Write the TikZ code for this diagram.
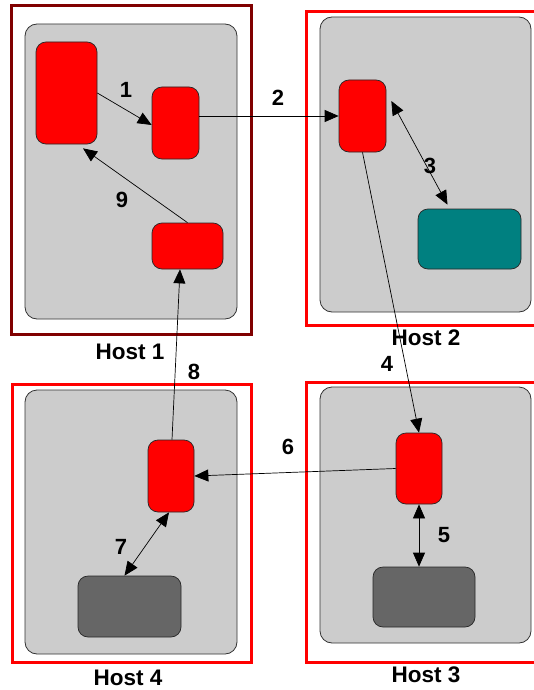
\documentclass[tikz,border=0pt]{standalone}
\usepackage{fontspec}
\setmainfont{Liberation Sans}
\usetikzlibrary{arrows.meta,calc}
\definecolor{darkframe}{HTML}{800000}
\definecolor{tealbox}{HTML}{008080}
\definecolor{graybox}{HTML}{CCCCCC}
\definecolor{darkbox}{HTML}{666666}
\begin{document}
\begin{tikzpicture}[x=1pt,y=-1pt,
  hostframe/.style={draw=red,line width=3pt,fill=white},
  hostarea/.style={draw=black!80,line width=0.8pt,fill=graybox,rounded corners=12pt,inner sep=0pt},
  proc/.style={draw=black!85,line width=0.7pt,rounded corners=10pt,inner sep=0pt},
  redbox/.style={proc,fill=red},
  tealbx/.style={proc,fill=tealbox},
  darkbx/.style={proc,fill=darkbox},
  conn/.style={line width=0.7pt,-{Triangle[length=14pt,width=12pt]}},
  dconn/.style={line width=0.7pt,{Triangle[length=14pt,width=12pt]}-{Triangle[length=14pt,width=12pt]}},
  lbl/.style={font=\fontsize{22}{22}\selectfont\bfseries,inner sep=0pt},
  hostlbl/.style={font=\fontsize{22.5}{22.5}\selectfont\bfseries,inner sep=0pt}
]
\useasboundingbox (0,0) rectangle (534,690);
% frames
\draw[hostframe,draw=darkframe] (11,6) rectangle (251,334);
\draw[hostframe] (306,12) rectangle (540,325);
\draw[hostframe] (306,382) rectangle (540,662);
\draw[hostframe] (12,384) rectangle (251,662);
% host areas
\node[hostarea,minimum width=212pt,minimum height=295pt] (h1) at (131,171.5) {};
\node[hostarea,minimum width=211pt,minimum height=295pt] (h2) at (425.5,164.5) {};
\node[hostarea,minimum width=211pt,minimum height=256pt] (h3) at (425.5,515) {};
\node[hostarea,minimum width=212pt,minimum height=264pt] (h4) at (131,522) {};
% components
\node[redbox,minimum width=61pt,minimum height=102pt] (A) at (66.5,93) {};
\node[redbox,minimum width=47pt,minimum height=72pt] (B) at (175.5,123) {};
\node[redbox,minimum width=71pt,minimum height=46pt] (C) at (187.5,246) {};
\node[redbox,minimum width=47pt,minimum height=72pt] (D) at (362.5,116) {};
\node[tealbx,minimum width=103pt,minimum height=60pt] (E) at (469.5,239) {};
\node[redbox,minimum width=46pt,minimum height=71pt] (F) at (419,468.5) {};
\node[darkbx,minimum width=102pt,minimum height=60pt] (G) at (424,597) {};
\node[redbox,minimum width=46pt,minimum height=72pt] (H) at (171,476) {};
\node[darkbx,minimum width=103pt,minimum height=61pt] (I) at (129.5,606.5) {};
% connectors
\draw[conn] (A.east) -- ([yshift=-2pt]B.west);
\draw[conn] (B.east |- D.west) -- (D.west);
\draw[dconn] ([xshift=5pt,yshift=15pt]D.east) -- ([xshift=-22pt,yshift=4pt]E.north);
\draw[conn] (D.south) -- (F.north);
\draw[dconn] (F.south) -- (F.south |- G.north);
\draw[conn] (F.west) -- (H.east);
\draw[dconn] ([xshift=-2pt]H.south) -- ([xshift=-5pt]I.north);
\draw[conn] ([xshift=1pt]H.north) -- ([xshift=-7.5pt]C.south);
\draw[conn] (C.north) -- ([xshift=16.5pt,yshift=-4pt]A.south);
% labels
\node[lbl] (l1) at (126,90) {1};
\node[lbl] (l2) at (278,98) {2};
\node[lbl] (l3) at (430,166) {3};
\node[lbl] (l4) at (387,364) {4};
\node[lbl] (l5) at (444,535) {5};
\node[lbl] (l6) at (288,447) {6};
\node[lbl] (l7) at (121,547) {7};
\node[lbl] (l8) at (194,372) {8};
\node[lbl] (l9) at (122,200) {9};
\node[hostlbl] (t1) at (130,352) {Host 1};
\node[hostlbl] (t2) at (426,338) {Host 2};
\node[hostlbl] (t3) at (426,675) {Host 3};
\node[hostlbl] (t4) at (128,678) {Host 4};
\end{tikzpicture}
\end{document}
